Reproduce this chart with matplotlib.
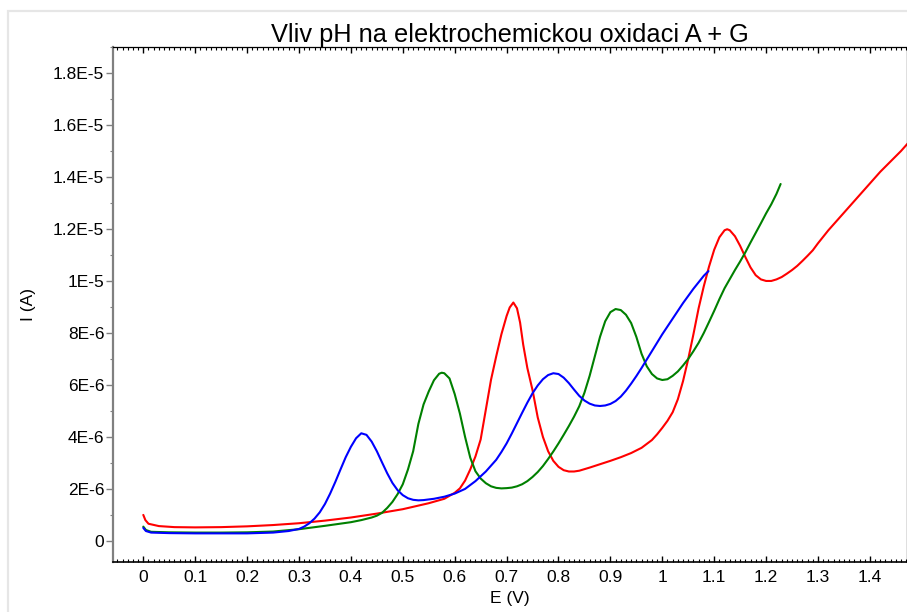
import numpy as np
import matplotlib
matplotlib.use("Agg")
import matplotlib.pyplot as plt
from matplotlib.ticker import FixedLocator, MultipleLocator
from matplotlib.patches import Rectangle

plt.rcParams['font.family'] = ['Liberation Sans', 'DejaVu Sans']

#--- Curves (E in V, I in 1e-6 A)
blue_E = [0.000, 0.005, 0.015, 0.05, 0.10, 0.15, 0.20, 0.25, 0.28, 0.30, 0.31, 0.32,
          0.33, 0.34, 0.35, 0.36, 0.37, 0.38, 0.39, 0.40, 0.41, 0.42, 0.43, 0.44,
          0.45, 0.46, 0.47, 0.48, 0.49, 0.50, 0.51, 0.52, 0.53, 0.54, 0.56, 0.58,
          0.60, 0.62, 0.64, 0.66, 0.68, 0.69, 0.70, 0.71, 0.72, 0.73, 0.74, 0.75,
          0.76, 0.77, 0.78, 0.79, 0.80, 0.81, 0.82, 0.83, 0.84, 0.85, 0.86, 0.87,
          0.88, 0.89, 0.90, 0.91, 0.92, 0.93, 0.94, 0.95, 0.96, 0.98, 1.00, 1.02,
          1.04, 1.06, 1.08, 1.089]
blue_I = [0.50, 0.38, 0.32, 0.30, 0.29, 0.29, 0.29, 0.32, 0.38, 0.46, 0.55, 0.68,
          0.86, 1.10, 1.42, 1.82, 2.27, 2.75, 3.22, 3.62, 3.95, 4.14, 4.08, 3.82,
          3.45, 3.02, 2.60, 2.23, 1.95, 1.76, 1.64, 1.58, 1.56, 1.57, 1.62, 1.70,
          1.82, 2.00, 2.30, 2.67, 3.12, 3.42, 3.75, 4.13, 4.53, 4.93, 5.32, 5.68,
          5.98, 6.22, 6.38, 6.45, 6.42, 6.28, 6.07, 5.82, 5.58, 5.40, 5.28, 5.21,
          5.19, 5.21, 5.27, 5.38, 5.55, 5.78, 6.05, 6.34, 6.65, 7.30, 7.95, 8.55,
          9.15, 9.70, 10.20, 10.38]

green_E = [0.000, 0.005, 0.015, 0.05, 0.10, 0.15, 0.20, 0.25, 0.30, 0.35, 0.40, 0.42,
           0.44, 0.45, 0.46, 0.47, 0.48, 0.49, 0.50, 0.51, 0.52, 0.53, 0.54, 0.55,
           0.56, 0.57, 0.575, 0.58, 0.59, 0.60, 0.61, 0.62, 0.63, 0.64, 0.65, 0.66,
           0.67, 0.68, 0.69, 0.70, 0.71, 0.72, 0.73, 0.74, 0.75, 0.76, 0.77, 0.78,
           0.79, 0.80, 0.81, 0.82, 0.83, 0.84, 0.85, 0.86, 0.87, 0.88, 0.89, 0.90,
           0.91, 0.92, 0.93, 0.94, 0.95, 0.96, 0.97, 0.98, 0.99, 1.00, 1.01, 1.02,
           1.03, 1.04, 1.05, 1.06, 1.07, 1.08, 1.09, 1.10, 1.11, 1.12, 1.13, 1.14,
           1.15, 1.16, 1.17, 1.18, 1.19, 1.20, 1.21, 1.22, 1.228]
green_I = [0.55, 0.42, 0.35, 0.33, 0.32, 0.32, 0.33, 0.36, 0.45, 0.58, 0.72, 0.80,
           0.90, 0.97, 1.08, 1.27, 1.50, 1.80, 2.18, 2.75, 3.45, 4.50, 5.25, 5.75,
           6.18, 6.43, 6.47, 6.45, 6.25, 5.65, 4.90, 4.00, 3.20, 2.68, 2.40, 2.22,
           2.10, 2.04, 2.02, 2.03, 2.05, 2.10, 2.18, 2.30, 2.46, 2.65, 2.88, 3.15,
           3.44, 3.75, 4.08, 4.42, 4.78, 5.18, 5.70, 6.35, 7.10, 7.85, 8.45, 8.80,
           8.92, 8.88, 8.70, 8.38, 7.85, 7.20, 6.72, 6.42, 6.25, 6.19, 6.22, 6.35,
           6.52, 6.75, 7.00, 7.30, 7.62, 8.00, 8.42, 8.85, 9.30, 9.72, 10.07, 10.42,
           10.75, 11.10, 11.48, 11.85, 12.22, 12.60, 12.95, 13.35, 13.73]

red_E = [0.000, 0.004, 0.010, 0.03, 0.06, 0.10, 0.15, 0.20, 0.25, 0.30, 0.35, 0.40,
         0.45, 0.50, 0.55, 0.58, 0.60, 0.61, 0.62, 0.63, 0.64, 0.65, 0.66, 0.67,
         0.68, 0.69, 0.70, 0.706, 0.713, 0.72, 0.726, 0.732, 0.74, 0.75, 0.76, 0.77,
         0.78, 0.79, 0.80, 0.81, 0.82, 0.83, 0.84, 0.86, 0.88, 0.90, 0.92, 0.94,
         0.96, 0.98, 0.99, 1.00, 1.01, 1.02, 1.03, 1.04, 1.05, 1.06, 1.07, 1.08,
         1.09, 1.10, 1.11, 1.12, 1.125, 1.13, 1.14, 1.15, 1.16, 1.17, 1.18, 1.19,
         1.20, 1.21, 1.22, 1.23, 1.24, 1.25, 1.26, 1.27, 1.28, 1.29, 1.30, 1.32,
         1.34, 1.36, 1.38, 1.40, 1.42, 1.44, 1.46, 1.48]
red_I = [1.00, 0.80, 0.66, 0.57, 0.53, 0.52, 0.53, 0.56, 0.61, 0.68, 0.78, 0.90,
         1.05, 1.22, 1.45, 1.62, 1.85, 2.02, 2.32, 2.75, 3.25, 3.90, 5.05, 6.20,
         7.10, 7.95, 8.65, 8.98, 9.17, 8.95, 8.40, 7.55, 6.65, 5.80, 4.75, 4.00,
         3.45, 3.08, 2.85, 2.72, 2.67, 2.67, 2.70, 2.82, 2.95, 3.08, 3.22, 3.38,
         3.58, 3.88, 4.10, 4.35, 4.62, 4.95, 5.45, 6.15, 7.00, 7.95, 8.95, 9.80,
         10.55, 11.20, 11.68, 11.95, 11.99, 11.95, 11.72, 11.35, 10.92, 10.52, 10.22, 10.06,
         10.00, 10.00, 10.06, 10.15, 10.28, 10.42, 10.58, 10.77, 10.97, 11.18, 11.45, 11.95,
         12.40, 12.85, 13.30, 13.75, 14.20, 14.60, 15.00, 15.45]

x_ticks = [0.0, 0.1, 0.2, 0.3, 0.4, 0.5, 0.6, 0.7, 0.8, 0.9, 1.0, 1.1, 1.2, 1.3, 1.4]
x_labels = ["0", "0.1", "0.2", "0.3", "0.4", "0.5", "0.6", "0.7", "0.8", "0.9",
            "1", "1.1", "1.2", "1.3", "1.4"]
y_ticks = [0, 2e-6, 4e-6, 6e-6, 8e-6, 1e-5, 1.2e-5, 1.4e-5, 1.6e-5, 1.8e-5]
y_labels = ["0", "2E-6", "4E-6", "6E-6", "8E-6", "1E-5", "1.2E-5", "1.4E-5", "1.6E-5", "1.8E-5"]

W, H = 907, 612
fig = plt.figure(figsize=(W / 100, H / 100), dpi=100)

#--- light frame around the whole picture
fig.patches.append(Rectangle((8 / W, -0.05), 1.2, 1 - 11 / H + 0.05, transform=fig.transFigure,
                             fill=False, edgecolor="#e6e6e6", linewidth=1.6))

ax = fig.add_axes([113.3 / W, (H - 561.7) / H, (W - 113.3) / W, (561.7 - 47) / H])

scale = 1e-6
line_kw = dict(lw=1.5, solid_joinstyle="round", solid_capstyle="round")
ax.plot(red_E, np.array(red_I) * scale, color="#ff0000", **line_kw)
ax.plot(green_E, np.array(green_I) * scale, color="#008000", **line_kw)
ax.plot(blue_E, np.array(blue_I) * scale, color="#0000ff", **line_kw)

ax.set_xlim(-0.0578, 1.4715)
ax.set_ylim(-0.8e-6, 1.9e-5)

ax.xaxis.set_major_locator(FixedLocator(x_ticks))
ax.set_xticklabels(x_labels)
ax.xaxis.set_minor_locator(MultipleLocator(0.01))
ax.yaxis.set_major_locator(FixedLocator(y_ticks))
ax.set_yticklabels(y_labels)
ax.yaxis.set_minor_locator(MultipleLocator(1e-6))

ax.tick_params(axis="x", which="major", direction="in", length=4, width=1,
               top=True, labelsize=12.5, pad=6)
ax.tick_params(axis="x", which="minor", direction="in", length=2, width=0.8, top=True)
ax.tick_params(axis="y", which="major", direction="out", length=5, width=1,
               labelsize=12.5, pad=1.5, color="#808080")
ax.tick_params(axis="y", which="minor", direction="out", length=2.5, width=0.8, color="#808080")
ax.tick_params(axis="y", which="both", right=True)

ax.spines["left"].set_color("#808080")
ax.spines["left"].set_linewidth(1.6)
ax.spines["bottom"].set_linewidth(1.2)
ax.spines["top"].set_linewidth(0.9)
ax.spines["right"].set_linewidth(0.9)

ax.set_title("Vliv pH na elektrochemickou oxidaci A + G", fontsize=18.3, pad=1.5)
ax.set_xlabel("E (V)", fontsize=12.5, labelpad=4)
ax.set_ylabel("I (A)", fontsize=12.5, labelpad=12)

fig.savefig("out.png", dpi=100)
